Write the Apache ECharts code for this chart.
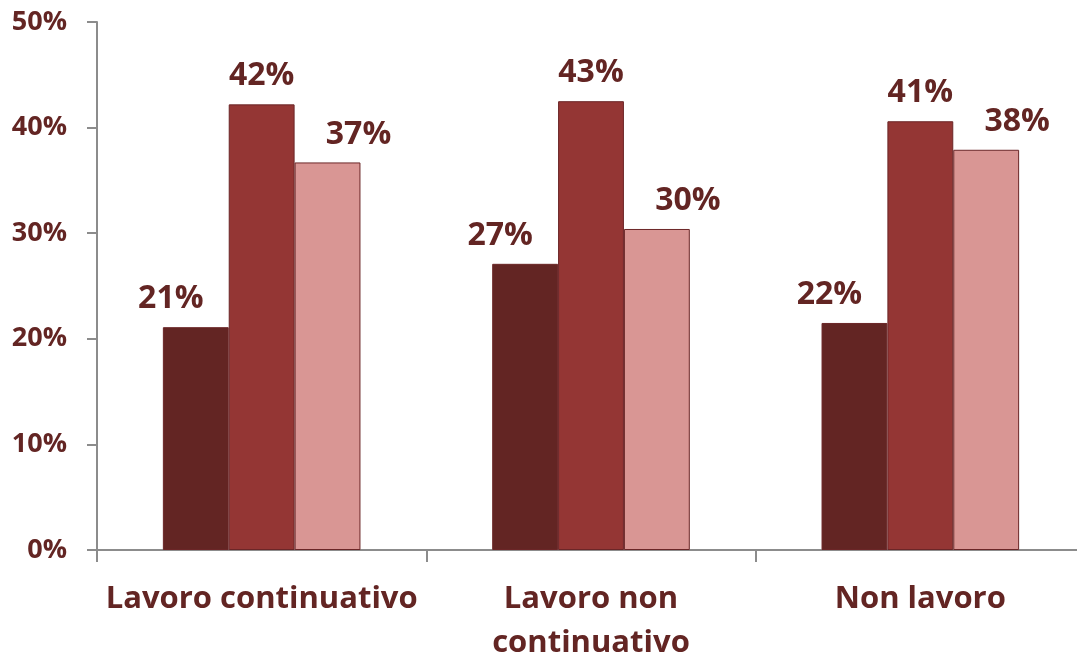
<!DOCTYPE html>
<html>
<head>
<meta charset="utf-8">
<script src="https://cdn.jsdelivr.net/npm/echarts@6/dist/echarts.min.js"></script>
<style>
html,body{margin:0;padding:0;background:#fff;}
#chart{width:1077px;height:659px;}
</style>
</head>
<body>
<div id="chart"></div>
<script>
const categories = ['Lavoro continuativo', 'Lavoro non\ncontinuativo', 'Non lavoro'];
const seriesA = [21.1, 27.1, 21.5];
const seriesB = [42.2, 42.5, 40.6];
const seriesC = [36.7, 30.4, 37.9];
const yTicks = [0, 10, 20, 30, 40, 50];

const textColor = '#632523';
const fontFamily = '"Open Sans", Lato, sans-serif';
const chart = echarts.init(document.getElementById('chart'));

function makeSeries(data, color, offsetX) {
  return {
    type: 'bar',
    data: data,
    barGap: '0%',
    barCategoryGap: '40%',
    itemStyle: { color: color, borderColor: '#6b2627', borderWidth: 1 },
    label: {
      show: true,
      position: 'top',
      distance: 12,
      offset: [offsetX, 0],
      color: textColor,
      fontWeight: 'bold',
      fontSize: 32,
      fontFamily: fontFamily,
      formatter: p => Math.round(p.value) + '%'
    }
  };
}

chart.setOption({
  animation: false,
  grid: { left: 97, top: 22, width: 988, height: 528, containLabel: false, outerBoundsMode: 'none' },
  xAxis: {
    type: 'category',
    data: categories,
    axisLine: { lineStyle: { color: '#8c8c8c', width: 2 } },
    axisTick: { show: true, length: 12, lineStyle: { color: '#8c8c8c', width: 2 } },
    axisLabel: {
      color: textColor, fontWeight: 'bold', fontSize: 31, fontFamily: fontFamily,
      margin: 27, lineHeight: 44, interval: 0
    }
  },
  yAxis: {
    type: 'value',
    min: yTicks[0], max: yTicks[yTicks.length - 1], interval: 10,
    axisLine: { show: true, lineStyle: { color: '#8c8c8c', width: 2 } },
    axisTick: { show: true, length: 10, lineStyle: { color: '#8c8c8c', width: 2 } },
    splitLine: { show: false },
    axisLabel: {
      color: textColor, fontWeight: 'bold', fontSize: 27, fontFamily: fontFamily,
      margin: 30, formatter: '{value}%'
    }
  },
  series: [
    makeSeries(seriesA, '#632523', -25),
    makeSeries(seriesB, '#943634', 0),
    makeSeries(seriesC, '#D99694', 31)
  ]
});
</script>
</body>
</html>
